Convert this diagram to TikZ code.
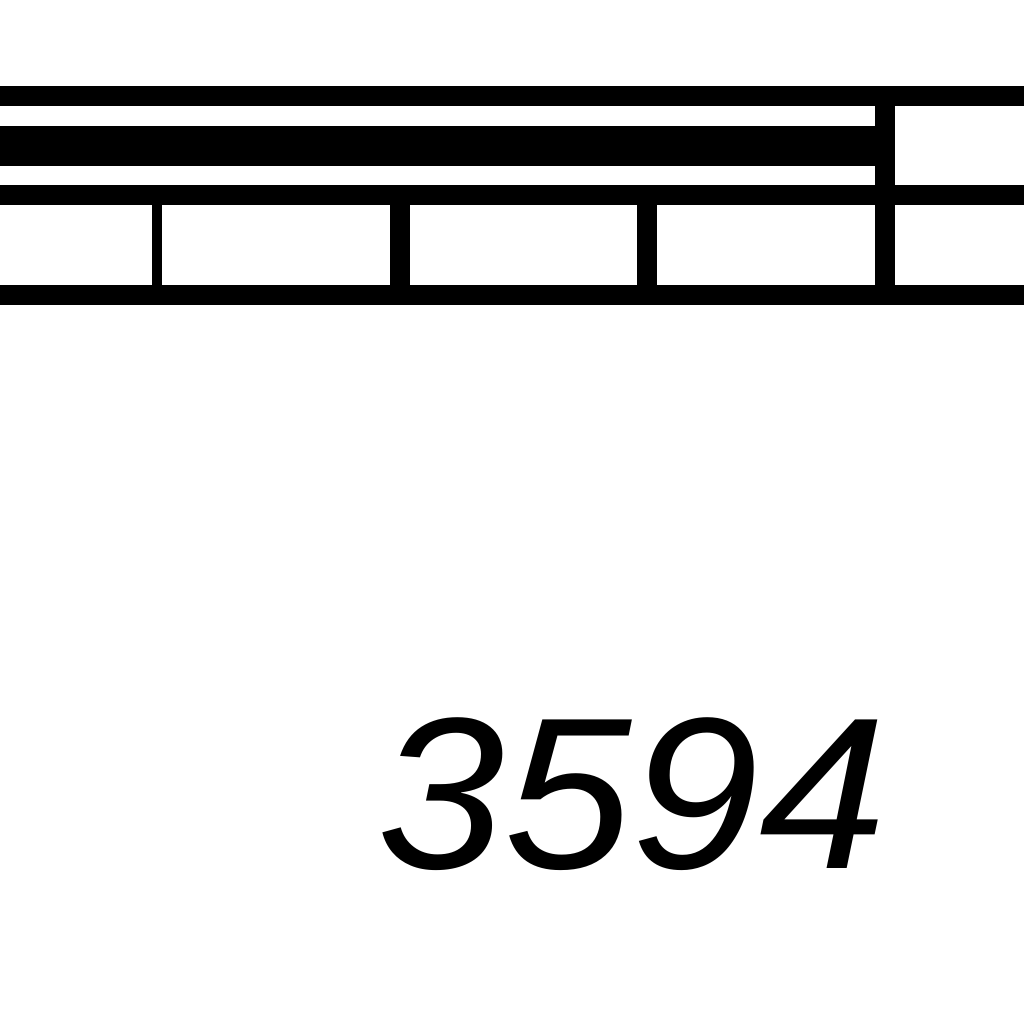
\documentclass[tikz,border=0pt]{standalone}
\usepackage{fontspec}
\newfontfamily\labelfont{Liberation Sans}
\begin{document}
\begin{tikzpicture}[x=1pt,y=-1pt,
  thickline/.style={line width=20pt,line cap=butt},
  thinline/.style={line width=10pt,line cap=butt},
  dimtext/.style={inner sep=0pt,anchor=base,xscale=1.06,font=\labelfont\itshape\fontsize{216}{218}\selectfont}]
\useasboundingbox (0,0) rectangle (1024,1024);
% horizontal lines
\draw[thickline] (0,96) -- (1024,96);
\fill (0,126) rectangle (875,166);
\draw[thickline] (0,195) -- (1024,195);
\draw[thickline] (0,295) -- (1024,295);
% vertical lines
\draw[thinline] (157,205) -- (157,285);
\draw[thickline] (400,205) -- (400,285);
\draw[thickline] (647,205) -- (647,285);
\draw[thickline] (885,106) -- (885,285);
% label
\node[dimtext] (lbl) at (632,868) {3594};
\end{tikzpicture}
\end{document}
